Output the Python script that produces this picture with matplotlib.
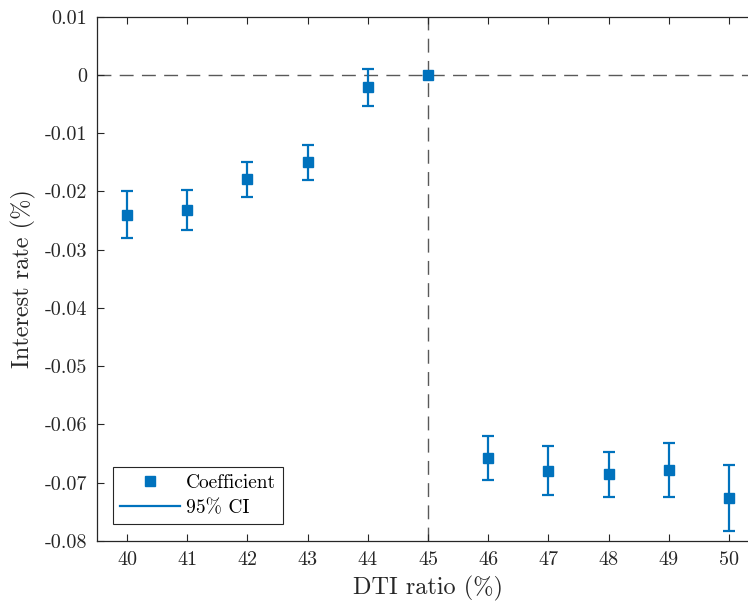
import matplotlib
matplotlib.use("Agg")
import matplotlib.pyplot as plt
from matplotlib.lines import Line2D
import numpy as np

# Data
dti = [40, 41, 42, 43, 44, 45, 46, 47, 48, 49, 50]
coef = [-0.0240, -0.0231, -0.0179, -0.0150, -0.0021, 0.0, -0.0658, -0.0680, -0.0685, -0.0678, -0.0726]
ci_upper = [-0.0199, -0.0197, -0.0150, -0.0121, 0.0010, 0.0, -0.0619, -0.0637, -0.0647, -0.0631, -0.0670]
ci_lower = [-0.0280, -0.0266, -0.0209, -0.0180, -0.0053, 0.0, -0.0696, -0.0721, -0.0725, -0.0725, -0.0782]
yticks = [0.01, 0, -0.01, -0.02, -0.03, -0.04, -0.05, -0.06, -0.07, -0.08]
ytick_labels = ["0.01", "0", "-0.01", "-0.02", "-0.03", "-0.04", "-0.05", "-0.06", "-0.07", "-0.08"]

plt.rcParams['font.family'] = ['cmr10', 'DejaVu Serif']
plt.rcParams['mathtext.fontset'] = 'cm'
plt.rcParams['axes.unicode_minus'] = False
plt.rcParams['axes.formatter.use_mathtext'] = True

blue = (0, 0.447, 0.741)
dark = (0.15, 0.15, 0.15)
fig = plt.figure(figsize=(7.48, 6.02), dpi=100)
W, H = 748, 602
left, right, top, bottom = 97, 759, 16.7, 541
ax = fig.add_axes([left / W, (H - bottom) / H, (right - left) / W, (bottom - top) / H])

x = np.array(dti)
c = np.array(coef)
up = np.array(ci_upper)
lo = np.array(ci_lower)

ax.axhline(0, color=(0.35, 0.35, 0.35), lw=1.0, dashes=(10, 6), zorder=1)
ax.axvline(45, color=(0.35, 0.35, 0.35), lw=1.0, dashes=(10, 6), zorder=1)

mask = x != 45
ax.errorbar(x[mask], c[mask], yerr=[c[mask] - lo[mask], up[mask] - c[mask]], fmt='none',
            ecolor=blue, elinewidth=1.6, capsize=4.5, capthick=1.6, zorder=2)
ax.plot(x, c, 's', color=blue, markersize=7.2, zorder=3)

ax.set_xlim(39.5, 50.5)
ax.set_ylim(-0.08, 0.01)
ax.set_xticks(dti)
ax.set_xticklabels([str(d) for d in dti])
ax.set_yticks(yticks)
ax.set_yticklabels(ytick_labels)
ax.tick_params(direction='in', top=True, right=True, length=5, width=0.8,
               labelsize=14.5, colors=dark, pad=7)
for s in ax.spines.values():
    s.set_color(dark)
    s.set_linewidth(0.9)

ax.set_xlabel("DTI ratio (%)", fontsize=17.5, labelpad=5, color=dark)
ax.set_ylabel("Interest rate (%)", fontsize=17.5, labelpad=6, color=dark)

handles = [Line2D([], [], ls='none', marker='s', color=blue, markersize=7.2),
           Line2D([], [], color=blue, lw=1.6)]
leg = ax.legend(handles, ["Coefficient", "95% CI"], loc='lower left',
                bbox_to_anchor=((113 - left) / (right - left), (bottom - 523.7) / (bottom - top)),
                fontsize=14, fancybox=False, framealpha=1, edgecolor=dark,
                handlelength=3.1, borderpad=0.35, labelspacing=0.35, handletextpad=0.3,
                borderaxespad=0)
leg.get_frame().set_linewidth(0.8)

fig.savefig("out.png", dpi=100)
